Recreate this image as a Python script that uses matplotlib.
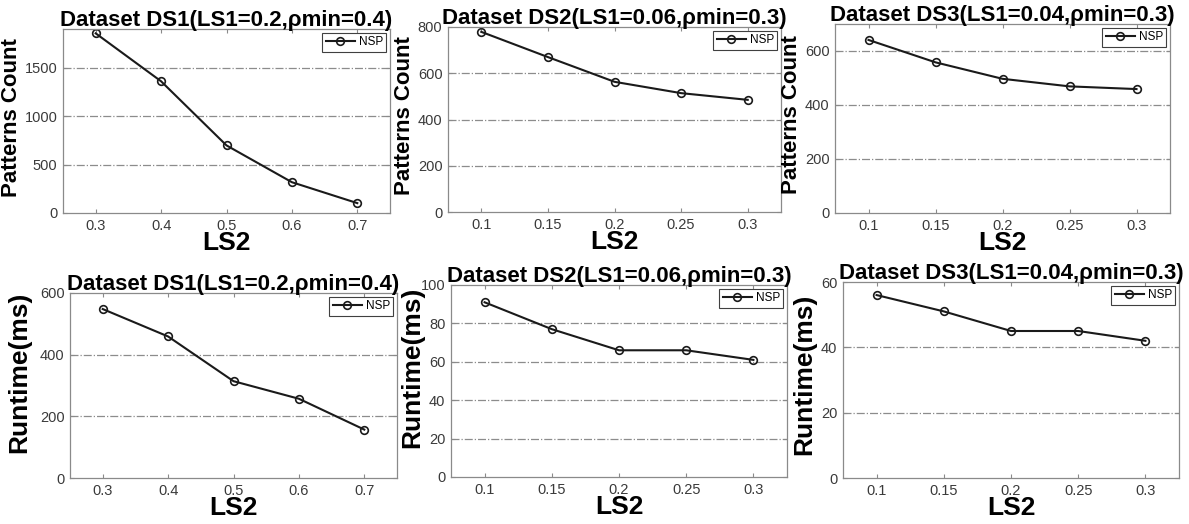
import matplotlib
matplotlib.use("Agg")
import matplotlib.pyplot as plt

plt.rcParams['font.family'] = ['Liberation Sans', 'DejaVu Sans']

# datos
ls2_ds1 = [0.3, 0.4, 0.5, 0.6, 0.7]
ls2_ds1_labels = ['0.3', '0.4', '0.5', '0.6', '0.7']
ls2_ds23 = [0.1, 0.15, 0.2, 0.25, 0.3]
ls2_ds23_labels = ['0.1', '0.15', '0.2', '0.25', '0.3']

patrones_ds1 = [1855, 1360, 698, 318, 102]
patrones_ds2 = [779, 670, 563, 514, 485]
patrones_ds3 = [641, 558, 497, 469, 459]

tiempo_ds1 = [548, 459, 314, 257, 157]
tiempo_ds2 = [91, 77, 66, 66, 61]
tiempo_ds3 = [56, 51, 45, 45, 42]

titulos = ["Dataset DS1(LS1=0.2,\u03c1min=0.4)",
           "Dataset DS2(LS1=0.06,\u03c1min=0.3)",
           "Dataset DS3(LS1=0.04,\u03c1min=0.3)"]

W, H = 1189, 524
fig = plt.figure(figsize=(W / 100, H / 100), dpi=100)


def panel(caja, x, y, titulo, ylabel, ylab_size, xlim, ylim, yticks, xticklabels, ylab_pos):
    izq, der, arriba, abajo = caja
    ax = fig.add_axes([izq / W, 1 - abajo / H, (der - izq) / W, (abajo - arriba) / H])
    ax.plot(x, y, color='#1a1a1a', lw=1.5, marker='o', ms=5.5, mfc='none',
            mec='#1a1a1a', mew=1.2, label='NSP')
    ax.set_xlim(xlim)
    ax.set_ylim(ylim)
    ax.set_yticks(yticks)
    ax.set_xticks(x)
    ax.set_xticklabels(xticklabels)
    for v in yticks:
        if v > ylim[0] and v < ylim[1]:
            ax.axhline(v, color='#8c8c8c', lw=0.9, ls='-.', zorder=0)
    for s in ax.spines.values():
        s.set_color('#8a8a8a')
        s.set_linewidth(0.9)
    ax.tick_params(direction='in', length=3, color='#8a8a8a', labelcolor='#3a3a3a',
                   labelsize=10.5, top=True, right=True, pad=4)
    ax.set_title(titulo, fontsize=16, fontweight='bold', pad=2)
    ax.set_xlabel('LS2', fontsize=19, fontweight='bold', labelpad=-1)
    ax.set_ylabel(ylabel, fontsize=ylab_size, fontweight='bold')
    ax.yaxis.set_label_coords(ylab_pos[0], ylab_pos[1])
    leg = ax.legend(loc='upper right', fontsize=8.5, fancybox=False, framealpha=1,
                    borderpad=0.3, handlelength=2.5, handletextpad=0.3,
                    borderaxespad=0.3)
    leg.get_frame().set_edgecolor('#404040')
    leg.get_frame().set_linewidth(0.8)
    return ax


panel((63, 390, 29, 213), ls2_ds1, patrones_ds1, titulos[0], 'Patterns Count', 16,
      (0.25, 0.75), (0, 1900), [0, 500, 1000, 1500], ls2_ds1_labels, (-0.124, 0.52))
panel((448, 781, 27, 212), ls2_ds23, patrones_ds2, titulos[1], 'Patterns Count', 16,
      (0.075, 0.325), (0, 800), [0, 200, 400, 600, 800], ls2_ds23_labels, (-0.1, 0.52))
panel((835, 1170, 24, 213), ls2_ds23, patrones_ds3, titulos[2], 'Patterns Count', 16,
      (0.075, 0.325), (0, 700), [0, 200, 400, 600], ls2_ds23_labels, (-0.099, 0.52))

panel((70, 397, 293, 478), ls2_ds1, tiempo_ds1, titulos[0], 'Runtime(ms)', 19,
      (0.25, 0.75), (0, 600), [0, 200, 400, 600], ls2_ds1_labels, (-0.118, 0.57))
panel((451, 787, 285, 477), ls2_ds23, tiempo_ds2, titulos[1], 'Runtime(ms)', 19,
      (0.075, 0.325), (0, 100), [0, 20, 40, 60, 80, 100], ls2_ds23_labels, (-0.08, 0.57))
panel((843, 1179, 282, 478), ls2_ds23, tiempo_ds3, titulos[2], 'Runtime(ms)', 19,
      (0.075, 0.325), (0, 60), [0, 20, 40, 60], ls2_ds23_labels, (-0.08, 0.53))

fig.savefig('out.png', dpi=100)
